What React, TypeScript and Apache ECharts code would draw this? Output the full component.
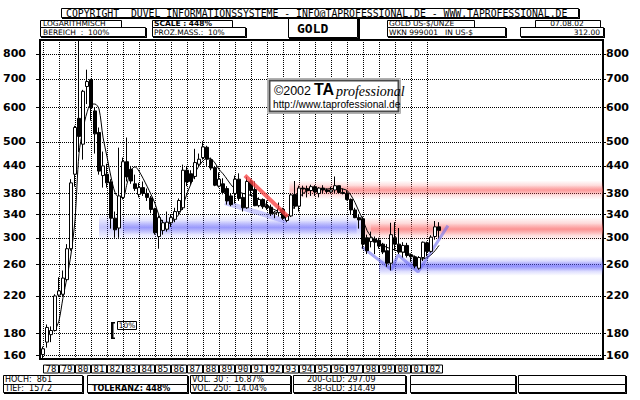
import React, { useEffect, useRef } from "react";
import * as echarts from "echarts";

// ---------- DATA (quarterly candles, 1977 Q4 .. 2002 Q3) ----------
const firstQuarter = 1978.0; // x of first candle (end of 1977 Q4)
const quarterStep = 0.25;

const opens = [
  161, 172, 179, 183, 221, 222, 240, 283, 421, 567, 494, 672, 697, 590, 526, 418, 421,
  404, 333, 316, 372, 450, 432, 400, 378, 392, 380, 371, 350, 302, 312, 314, 325, 331,
  345, 352, 430, 422, 416, 444, 460, 486, 455, 436, 395, 400, 390, 375, 380, 410, 372,
  352, 405, 388, 356, 368, 356, 353, 341, 343, 349, 329, 337, 378, 355, 391, 390, 386,
  394, 380, 391, 387, 383, 387, 396, 382, 380, 368, 348, 334, 332, 300, 294, 298, 296,
  290, 280, 262, 300, 290, 278, 288, 274, 271, 255, 270, 292, 279, 302, 318,
];
const closes = [
  166, 186, 183, 220, 226, 242, 283, 402, 540, 515, 655, 690, 600, 522, 428, 440, 402,
  333, 313, 375, 450, 415, 406, 390, 392, 380, 372, 349, 308, 334, 325, 326, 334, 345,
  366, 430, 404, 405, 448, 456, 487, 456, 435, 397, 410, 382, 365, 358, 410, 370, 352,
  405, 386, 356, 368, 354, 352, 341, 344, 350, 333, 337, 377, 355, 391, 389, 386, 394,
  383, 391, 387, 384, 387, 396, 382, 380, 368, 348, 334, 330, 290, 280, 300, 293, 287,
  278, 262, 305, 290, 278, 288, 273, 271, 258, 270, 293, 279, 301, 318, 312,
];
const lows = [
  157.2, 167, 172, 182, 220, 220, 238, 280, 394, 474, 455, 612, 560, 470, 420, 392, 392,
  315, 300, 300, 368, 405, 400, 385, 372, 375, 365, 342, 305, 283, 305, 310, 318, 326,
  340, 348, 395, 398, 410, 438, 455, 440, 430, 395, 392, 378, 358, 355, 360, 365, 345,
  350, 375, 355, 353, 350, 348, 337, 333, 336, 330, 326, 335, 350, 345, 374, 372, 375,
  375, 372, 380, 380, 380, 381, 380, 378, 366, 340, 333, 315, 283, 275, 285, 275, 283,
  275, 257, 252, 280, 275, 270, 270, 264, 255, 253, 265, 272, 277, 297, 300,
];
const highs = [
  168, 189, 187, 222, 243, 252, 290, 410, 545, 861, 660, 735, 700, 600, 540, 475, 445,
  410, 345, 485, 460, 512, 440, 420, 402, 405, 390, 375, 352, 338, 330, 345, 340, 352,
  370, 443, 440, 430, 482, 470, 502, 490, 460, 440, 425, 412, 395, 380, 418, 423, 380,
  415, 410, 405, 372, 370, 366, 358, 346, 362, 352, 340, 380, 406, 396, 396, 396, 398,
  397, 393, 397, 390, 394, 416, 396, 390, 385, 370, 352, 340, 336, 305, 310, 302, 300,
  292, 290, 325, 326, 316, 293, 292, 276, 273, 272, 294, 294, 304, 328, 326,
];
const movingAverage = [
  null, null, null, 183, 193, 218, 243, 275, 330, 470, 535, 585, 612, 612, 596, 513, 462,
  415, 382, 372, 372, 400, 430, 438, 428, 412, 395, 378, 360, 338, 325, 322, 326, 332,
  340, 356, 380, 400, 424, 440, 452, 459, 457, 447, 432, 422, 410, 398, 389, 383, 380,
  378, 376, 373, 368, 362, 357, 352, 348, 345, 341, 337, 345, 356, 370, 380, 385, 387,
  388, 389, 389, 389, 390, 390, 390, 389, 386, 376, 362, 345, 330, 312, 302, 296, 292,
  288, 285, 283, 281, 279, 278, 277, 274, 271, 268, 268, 270, 274, 280, 288,
];

const priceTicks = [160, 180, 220, 260, 300, 340, 380, 440, 500, 600, 700, 800];
const yearTicks = [
  1978, 1979, 1980, 1981, 1982, 1983, 1984, 1985, 1986, 1987, 1988, 1989, 1990, 1991,
  1992, 1993, 1994, 1995, 1996, 1997, 1998, 1999, 2000, 2001, 2002,
];
const yearLabels = [
  "78", "79", "80", "81", "82", "83", "84", "85", "86", "87", "88", "89", "90", "91",
  "92", "93", "94", "95", "96", "97", "98", "99", "00", "01", "02",
];

// trend lines [year, price]
const redTrend = [[1990.62, 418], [1993.3, 336]];
const blueTrendA = [[1989.38, 362], [1993.25, 327]];
const blueTrendB = [[1997.92, 286], [1999.79, 253], [2000.19, 274], [2001.44, 250], [2003.31, 320]];

// bands: [fromYear, toYear, lowPrice, highPrice]
const blueSupportOuter = [1981.5, 1997.9, 296, 340];
const blueSupportInner = [1983.0, 1997.6, 305, 329];
const redUpperOuter = [1993.4, 2013, 368, 407];
const redUpperInner = [1994.0, 2013, 377, 397];
const redLowerOuter = [1997.9, 2013, 295, 335];
const redLowerInner = [1998.5, 2013, 304, 324];
const blueLowerOuter = [1999.0, 2013, 245, 272];
const blueLowerInner = [1999.8, 2013, 251, 265];

// ---------- helpers ----------
const MONO = '"DejaVu Sans Mono", monospace';
const SANS = '"DejaVu Sans", sans-serif';

function grad(rgb: string, a: number) {
  return {
    type: "linear", x: 0, y: 0, x2: 0, y2: 1,
    colorStops: [
      { offset: 0, color: `rgba(${rgb},0)` },
      { offset: 0.5, color: `rgba(${rgb},${a})` },
      { offset: 1, color: `rgba(${rgb},0)` },
    ],
  };
}
function band(b: number[], rgb: string, a: number) {
  return [
    { xAxis: b[0], yAxis: b[2], itemStyle: { color: grad(rgb, a) } },
    { xAxis: b[1], yAxis: b[3] },
  ];
}
function box(x: number, y: number, w: number, h: number, shadow: boolean, sw = 1) {
  const els: any[] = [
    { type: "rect", silent: true, shape: { x: x + 0.5, y: y + 0.5, width: w, height: h }, style: { fill: "#fff", stroke: "#000", lineWidth: 1 } },
  ];
  if (shadow) {
    els.push({ type: "rect", silent: true, shape: { x: x + w + 1, y: y + 1, width: sw, height: h + sw }, style: { fill: "#000" } });
    els.push({ type: "rect", silent: true, shape: { x: x + 1, y: y + h + 1, width: w + sw, height: sw }, style: { fill: "#000" } });
  }
  return els;
}
function txt(x: number, y: number, s: string, font: string, align = "left") {
  return {
    type: "text", silent: true, x, y,
    style: { text: s, font, fill: "#000", align, verticalAlign: "middle", textAlign: align, textVerticalAlign: "middle" },
  };
}

export default function App() {
  const ref = useRef<HTMLDivElement>(null);
  useEffect(() => {
    if (!ref.current) return;
    const chart = echarts.init(ref.current, undefined, { renderer: "svg" });
    const candleData = opens.map((o, i) => [firstQuarter + i * quarterStep, o, closes[i], lows[i], highs[i]]);
    const maData = movingAverage.map((v, i) => [firstQuarter + i * quarterStep, v]);
    const yearMids = yearTicks.map((y) => y + 0.5);

    const hdr = `7.5px ${SANS}`;
    const hdrBold = `bold 7.5px ${SANS}`;
    const ftr = `8px ${SANS}`;
    const ftrBold = `bold 8px ${SANS}`;
    const graphics: any[] = [
      ...box(61, 8, 517, 9, true),
      txt(66, 13, "COPYRIGHT  DUVEL INFORMATIONSSYSTEME - INFO@TAPROFESSIONAL.DE - WWW.TAPROFESSIONAL.DE", `9.8px ${MONO}`),
      ...box(40, 20, 81, 7, false),
      txt(43, 23.3, "LOGARITHMISCH", hdr),
      ...box(40, 27, 105, 9, true),
      txt(43, 32.2, "BEREICH  :  100%", hdr),
      ...box(152, 20, 80, 7, false),
      txt(154, 23.3, "SCALE : 448%", hdrBold),
      ...box(152, 27, 93, 9, true),
      txt(154, 32.2, "PROZ.MASS.:  10%", hdr),
      ...box(288, 18, 69, 19, true, 2),
      txt(297, 28, "GOLD", `bold 13px ${MONO}`),
      ...box(387, 20, 87, 7, false),
      txt(389, 23.3, "GOLD US-$/UNZE", hdr),
      ...box(387, 27, 118, 9, true),
      txt(389, 32.2, "WKN 999001   IN US-$", hdr),
      ...box(535, 20, 65, 7, false),
      txt(567, 23.3, "07.08.02", hdr, "center"),
      ...box(520, 27, 83, 9, true),
      txt(600, 32.2, "312.00", hdr, "right"),
      // footer
      ...box(3, 375, 79, 9, true), ...box(3, 384, 79, 8, true),
      txt(5, 379.6, "HOCH:  861", ftr), txt(5, 388.8, "TIEF:  157.2", ftr),
      ...box(87, 375, 100, 9, true), ...box(87, 384, 100, 8, true),
      txt(92, 388.8, "TOLERANZ: 448%", ftrBold),
      ...box(190, 375, 100, 9, true), ...box(190, 384, 100, 8, true),
      txt(192, 379.6, "VOL. 30 :  16.87%", ftr), txt(192, 388.8, "VOL. 250:  14.04%", ftr),
      ...box(293, 375, 112, 9, true), ...box(293, 384, 112, 8, true),
      txt(307, 379.6, "200-GLD: 297.09", ftr), txt(312, 388.8, "38-GLD: 314.49", ftr),
      ...box(410, 375, 105, 9, true), ...box(410, 384, 105, 8, true),
      ...box(518, 375, 107, 9, true), ...box(518, 384, 107, 8, true),
      // watermark
      { type: "rect", silent: true, z: 100, shape: { x: 267.5, y: 78.5, width: 133, height: 35 }, style: { fill: "#fff", stroke: "#b0b0b0", lineWidth: 1 } },
      { type: "rect", silent: true, z: 100, shape: { x: 269.5, y: 80.5, width: 129, height: 31 }, style: { fill: "#fff", stroke: "#4a4a4a", lineWidth: 2 } },
      { ...txt(274, 91, "\u00a92002", '12.5px "Liberation Sans", Arial'), z: 101 },
      { ...txt(314, 89.5, "TA", 'bold 16px "Liberation Sans", Arial'), z: 101 },
      { ...txt(336, 91.5, "professional", 'italic 14px "Liberation Serif", serif'), z: 101 },
      { ...txt(273, 104, "http://www.taprofessional.de", '10.2px "Liberation Sans", Arial'), z: 101 },
      // 10% marker
      { type: "rect", silent: true, shape: { x: 111, y: 322, width: 2.5, height: 17 }, style: { fill: "#000" } },
      { type: "rect", silent: true, shape: { x: 111, y: 322, width: 4, height: 1.5 }, style: { fill: "#000" } },
      { type: "rect", silent: true, shape: { x: 111, y: 337.5, width: 4, height: 1.5 }, style: { fill: "#000" } },
      ...box(117, 321, 19, 8, false),
      txt(127, 325.5, "10%", `7.5px ${SANS}`, "center"),
    ];

    const blue = "90,90,250";
    const red = "250,95,95";
    const yBase = {
      type: "log", min: 157.2, max: 861,
      axisLine: { show: true, onZero: false, lineStyle: { color: "#000", width: 2 } },
      axisTick: { show: true, length: 4, customValues: priceTicks, lineStyle: { color: "#000", width: 1 } },
    };
    const option: any = {
      animation: false,
      backgroundColor: "#fff",
      grid: { left: 40, right: 37, top: 40, bottom: 41, show: true, borderColor: "#000", borderWidth: 2, backgroundColor: "transparent" },
      xAxis: {
        type: "value", min: 1977.8125, max: 2013,
        axisLine: { show: true, onZero: false, lineStyle: { color: "#000", width: 2 } },
        axisTick: { show: false, customValues: yearTicks },
        splitLine: { show: true, lineStyle: { color: "#000", width: 1, type: [1, 1] } },
        axisLabel: {
          customValues: yearMids,
          formatter: (v: number) => yearLabels[Math.floor(v) - 1978] ?? "",
          margin: 6, fontFamily: MONO, fontSize: 9, color: "#000",
          borderColor: "#000", borderWidth: 1, width: 15, height: 8, lineHeight: 8, align: "center", padding: [0, 0, 0, 0],
        },
      },
      yAxis: [
        {
          ...yBase, position: "left",
          axisLabel: { customValues: priceTicks, margin: 14, fontFamily: SANS, fontWeight: "bold", fontSize: 11, color: "#000" },
          splitLine: { show: true, lineStyle: { color: "#000", width: 1, type: [1, 1] } },
        },
        {
          ...yBase, position: "right", axisTick: { ...yBase.axisTick, length: 3 },
          axisLabel: { customValues: priceTicks, margin: 3, fontFamily: SANS, fontWeight: "bold", fontSize: 11, color: "#000" },
          splitLine: { show: false },
        },
      ],
      graphic: { elements: graphics },
      series: [
        {
          type: "line", data: maData, showSymbol: false, symbol: "none", smooth: 0.3, z: 3,
          lineStyle: { color: "#000", width: 1 }, connectNulls: false,
          markArea: {
            silent: true,
            data: [
              band(blueSupportOuter, blue, 0.35), band(blueSupportInner, blue, 0.4),
              band(redUpperOuter, red, 0.42), band(redUpperInner, red, 0.38),
              band(redLowerOuter, red, 0.45), band(redLowerInner, red, 0.4),
              band(blueLowerOuter, blue, 0.45), band(blueLowerInner, blue, 0.4),
            ],
          },
        },
        { type: "line", data: blueTrendA, symbol: "none", z: 4, lineStyle: { color: "rgba(140,140,250,0.45)", width: 5 } },
        { type: "line", data: blueTrendB, symbol: "none", z: 4, lineStyle: { color: "rgba(110,110,240,0.6)", width: 3 } },
        {
          type: "candlestick", data: candleData, encode: { x: 0, y: [1, 2, 3, 4] }, barWidth: 3, z: 5,
          itemStyle: { color: "#fff", color0: "#000", borderColor: "#000", borderColor0: "#000", borderWidth: 1 },
        },
        { type: "line", data: redTrend, symbol: "none", z: 6, lineStyle: { color: "rgba(250,70,70,0.8)", width: 4 } },
      ],
    };
    chart.setOption(option);
    return () => chart.dispose();
  }, []);
  return <div ref={ref} style={{ position: "fixed", left: 0, top: 0, width: 640, height: 400, background: "#fff" }} />;
}
